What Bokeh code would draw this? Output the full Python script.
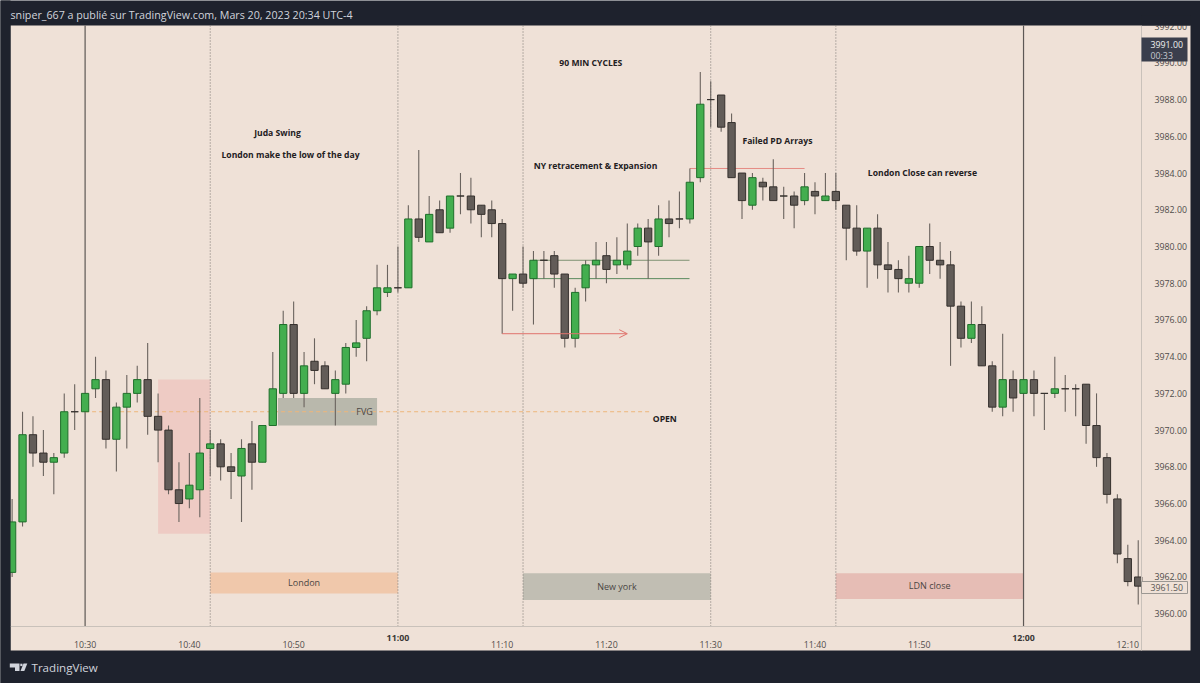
from bokeh.plotting import figure
from bokeh.models import ColumnDataSource, FixedTicker, NumeralTickFormatter, Arrow, OpenHead
from bokeh.core.properties import value
from bokeh.embed import file_html
from bokeh.resources import INLINE

# minute of day of the first candle (10:23)
first_minute = 623
opens = [3962.25,3965,3969.75,3968.75,3968.25,3968.75,3971,3971,3972.25,3972.75,3969.5,3971.25,3972,3972.75,3970.75,3970,3966.75,3966.25,3966.75,3969,3969.25,3968,3967.5,3969.25,3968.25,3970.25,3972,
 3975.75,3972,3973.75,3973.5,3972,3972.5,3974.5,3975,3976.5,3977.5,3977.75,3977.75,3981.5,3980.25,3982,3981,3982.75,3982.75,3982.25,3982,3981.25,3978.25,3978.5,3978.25,3979.25,3979.5,3978.5,3975,3977.75,3979,
 3979.5,3979,3979,3980,3981,3980,3981.5,3981.5,3981.5,3983.75,3988,3988.25,3986.75,3984,3982.25,3983.5,3983.25,3982.75,3982.75,3982.5,3983,3982.5,3983,3982.25,3981,3979.75,3981,3979,3978.75,3978,3978,3980,3979.25,3979,3976.75,3975,3975.75,3973.5,3971.25,3972.75,3972,3972.75,3972,3972,3972.25,3972.25,3972.5,3970.25,3968.5,3966.25,3963,3962]
highs = [3966.25,3971,3970.75,3970,3968.75,3972,3972.5,3972,3974,3973.25,3971.5,3973,3973.5,3974.75,3972,3970.25,3968.25,3968.75,3971.75,3970,3969.5,3968.75,3969.5,3970.5,3970.25,3974.25,3976.5,
 3977,3974.25,3975,3973.75,3973.25,3974.75,3976,3976.75,3979,3979,3980,3982.25,3985.25,3982.75,3982.5,3982.75,3984,3983.75,3982.25,3982.5,3981.5,3978.5,3980,3979.75,3979.75,3979.75,3978.5,3977.75,3979.25,3980.25,
 3980.25,3980.5,3981.25,3981.25,3981.5,3982.25,3982.5,3983,3984.25,3989.5,3989,3988.25,3987.25,3984,3984,3983.75,3984.75,3983.25,3983,3984,3983.5,3984,3984,3982.25,3982.25,3981,3981.75,3980.25,3979.25,3979.5,3980,3981.25,3980.25,3979.75,3977,3977,3976.75,3973.75,3975.25,3973.25,3972.75,3973.25,3972,3974,3973,3972.5,3972.5,3972,3968.75,3966.5,3963.75,3964]
lows = [3962,3964.75,3968,3967.5,3966.5,3968.5,3970,3971,3971.75,3969,3967.75,3969,3971.5,3969.75,3968.25,3966.5,3965,3965.75,3965.25,3967.5,3967.25,3966.25,3965,3966.75,3968.25,3970.25,3971.75,
 3971.75,3971.25,3972.5,3972.25,3970.25,3972,3974,3973.75,3976.25,3977.25,3977.5,3977.75,3980.25,3980.25,3980.75,3980.75,3981.75,3981.25,3980.5,3980.5,3975.25,3976.5,3977.75,3975.75,3978.25,3977.75,3974.5,3974.5,3977,3978.25,
 3978,3978.5,3978.75,3979.5,3978.25,3979.5,3980.5,3981,3981.25,3983.5,3986.5,3986.25,3983.75,3981.5,3982,3982.5,3982.5,3981.5,3981,3982.25,3981.75,3982.5,3982,3979.25,3979.5,3977.75,3978.25,3977.5,3977.5,3977.5,3977.75,3978.5,3978.25,3973.5,3974.5,3974.75,3973.5,3971,3970.75,3971,3972,3970.75,3970,3971.75,3971,3970.75,3969.25,3968,3966,3962.75,3961.5,3960.5]
closes = [3965,3969.75,3968.75,3968.25,3968.5,3971,3971,3972,3972.75,3969.5,3971.25,3972,3972.75,3970.75,3970,3966.75,3966,3967,3968.75,3969.25,3968,3967.75,3969,3968.25,3970.25,3972.25,3975.75,
 3972,3973.5,3973.25,3972.25,3972.75,3974.5,3974.75,3976.5,3977.75,3977.75,3977.75,3981.5,3980.5,3981.75,3980.75,3982.75,3982.75,3982,3981.75,3981.25,3978.25,3978.5,3978,3979.25,3979.25,3978.5,3975,3977.5,3979,3979.25,
 3978.75,3979.25,3979.75,3981,3980.25,3981.5,3981.25,3981.5,3983.5,3987.75,3988,3986.5,3983.75,3982.5,3983.75,3983.25,3982.5,3982.75,3982.25,3983.25,3982.75,3982.75,3982.5,3981,3979.75,3981,3979,3978.75,3978.25,3978.25,3980,3979.25,3979,3976.75,3975,3975.75,3973.5,3971.25,3972.75,3971.75,3972.75,3972,3972,3972.25,3972.25,3972.25,3970.25,3968.5,3966.5,3963.25,3961.75,3961.5]
minutes = [first_minute + i for i in range(len(opens))]

price_ticks = list(range(3960, 3994, 2))
time_ticks = [630, 640, 650, 660, 670, 680, 690, 700, 710, 720, 730]
time_labels = ["10:30", "10:40", "10:50", "", "11:10", "11:20", "11:30", "11:40", "11:50", "", "12:10"]
bold_ticks = [660, 720]
bold_labels = ["11:00", "12:00"]

solid_times = [630, 720]
dotted_times = [642, 660, 672, 690, 702]

zone_left = [637, 648.5, 642, 672, 702]
zone_right = [642, 658, 660, 690, 720]
zone_top = [3972.75, 3971.75, 3962.25, 3962.2, 3962.2]
zone_bottom = [3964.35, 3970.25, 3961.1, 3960.75, 3960.8]
zone_color = ["#eecbc4", "#b9b8ac", "#f0c8ab", "#c1beb3", "#e6bdb5"]

note_x = [678.5, 648.45, 649.7, 678.95, 696.4, 710.3, 685.6]
note_y = [3990.02, 3986.2, 3984.96, 3984.36, 3985.77, 3984.03, 3970.63]
note_text = ["90 MIN CYCLES", "Juda Swing", "London make the low of the day", "NY retracement & Expansion",
             "Failed PD Arrays", "London Close can reverse", "OPEN"]
tag_x = [656.8, 651, 681, 711]
tag_y = [3971, 3961.7, 3961.48, 3961.53]
tag_text = ["FVG", "London", "New york", "LDN close"]

open_price = 3971
level_top, level_bottom = 3979.25, 3978.25
high_line = 3984.25
arrow_price = 3975.25

BG, DARK = "#efe1d7", "#1e222d"

# page-pixel to data conversion, used only to place chrome (panels, tags, header)
X0, XP = 84.6, 10.427
Y0, YP = 613.2, 18.36
fx = lambda px: 630 + (px - X0) / XP
fy = lambda py: 3960 + (Y0 - py) / YP
FL, FR, FT, FB = 10, 1141, 25, 626

p = figure(width=1200, height=683, output_backend="svg", toolbar_location=None, tools="",
           x_range=(fx(0), fx(1200)), y_range=(fy(683), fy(0)),
           min_border=0, background_fill_color=DARK, border_fill_color=DARK, outline_line_color=None,
           x_axis_location="below", y_axis_location="right")
p.grid.visible = False

def box(l, r, t, b, color, level="underlay", line=None):
    p.quad(left=fx(l), right=fx(r), top=fy(t), bottom=fy(b), fill_color=color, line_color=line, level=level)

def label(x, y, text, color, size="8.8px", align="left", style="normal", level="annotation"):
    p.text([x], [y], text=[text], text_font=value("Open Sans"), text_font_size=size, text_font_style=style,
           text_color=color, text_align=align, text_baseline="middle", level=level)

box(FL, 1190, FT, 650, BG)

p.quad(left=zone_left, right=zone_right, top=zone_top, bottom=zone_bottom, fill_color=zone_color, line_color=None, level="underlay")

p.segment(solid_times, [fy(FT)] * len(solid_times), solid_times, [fy(FB)] * len(solid_times),
          line_color="#5d5855", line_width=1.2, level="underlay")
p.segment(dotted_times, [fy(FT)] * len(dotted_times), dotted_times, [fy(FB)] * len(dotted_times),
          line_color="#7b7673", line_width=1, line_dash="1 2", level="underlay")

p.line([630, fx(650)], [open_price, open_price], line_color="#eeb67a", line_width=1, line_dash="4 3")
p.line([fx(532), fx(689)], [level_top, level_top], line_color="#7f9273", line_width=1)
p.line([fx(532), fx(689)], [level_bottom, level_bottom], line_color="#5b8a5e", line_width=1)
p.line([688, 699], [high_line, high_line], line_color="#e58a84", line_width=1)

src_up = ColumnDataSource(dict(x=[m for m, o, c in zip(minutes, opens, closes) if c > o],
                               o=[o for o, c in zip(opens, closes) if c > o],
                               c=[c for o, c in zip(opens, closes) if c > o]))
src_dn = ColumnDataSource(dict(x=[m for m, o, c in zip(minutes, opens, closes) if c <= o],
                               o=[o for o, c in zip(opens, closes) if c <= o],
                               c=[c for o, c in zip(opens, closes) if c <= o]))
p.segment(minutes, highs, minutes, lows, line_color="#6a635e", line_width=1.1)
p.vbar(x="x", top="c", bottom="o", width=0.7, source=src_up, fill_color="#43ae4f", line_color="#1f6f2b", line_width=1)
p.vbar(x="x", top="o", bottom="c", width=0.7, source=src_dn, fill_color="#625c58", line_color="#35302d", line_width=1)

p.add_layout(Arrow(x_start=670, y_start=arrow_price, x_end=682, y_end=arrow_price,
                   line_color="#e0736c", line_width=1,
                   end=OpenHead(size=8, line_color="#e0736c", line_width=1)))

p.text(note_x, note_y, text=note_text, text_font=value("Open Sans"), text_font_size="8.6px", text_font_style="bold",
       text_color="#23201e", text_align="center", text_baseline="middle")
p.text(tag_x, tag_y, text=tag_text, text_font=value("Open Sans"), text_font_size="9px",
       text_color="#4a4643", text_align="center", text_baseline="middle")

xa, ya = p.xaxis[0], p.yaxis[0]
xa.fixed_location = fy(FB)
ya.fixed_location = fx(FR)
xa.bounds = (fx(FL), fx(FR))
ya.bounds = (fy(650), fy(FT))
xa.ticker = FixedTicker(ticks=time_ticks)
xa.major_label_overrides = {t: s for t, s in zip(time_ticks, time_labels)}
ya.ticker = FixedTicker(ticks=price_ticks)
ya.formatter = NumeralTickFormatter(format="0.00")
for a in (xa, ya):
    a.axis_line_color = "#c9c1ba"
    a.major_tick_line_color = None
    a.minor_tick_line_color = None
    a.major_label_text_color = "#4f4c4a"
    a.major_label_text_font = "Open Sans"
    a.major_label_text_font_size = "8.8px"
xa.major_label_standoff = 6
ya.major_label_standoff = 7

for t, s in zip(bold_ticks, bold_labels):
    label(t, fy(637.5), s, "#3a3735", align="center", style="bold")

# masks and last-price tags, above the axis labels
box(0, FL, 0, 683, DARK, level="annotation")
box(FR, 1190, 15, FT, DARK, level="annotation")
box(FR, 1187, 37, 61, "#3a3e4c", level="annotation")
box(FR, 1187, 581, 593, BG, level="annotation", line="#9b9792")
label(fx(1150), fy(44), "3991.00", "#f0f0f0")
label(fx(1150), fy(55), "00:33", "#c8cad0")
label(fx(1150), fy(587), "3961.50", "#5a5754")

# header and brand
label(fx(10), fy(14), "sniper_667 a publié sur TradingView.com, Mars 20, 2023 20:34 UTC-4", "#d1d4dc", size="10.7px")
label(fx(31), fy(667), "TradingView", "#d1d4dc", size="11.6px")
logo_t = [(9.3, 663), (19, 663), (19, 670.5), (14.5, 670.5), (14.5, 667), (9.3, 667)]
logo_s = [(23, 663), (26.8, 663), (23.8, 670.5), (20, 670.5)]
logo_d = [(19.8, 663.2), (22, 663.2), (22, 665.6), (19.8, 665.6)]
for poly in (logo_t, logo_s, logo_d):
    p.patch([fx(a) for a, b in poly], [fy(b) for a, b in poly], fill_color="#d1d4dc", line_color=None, level="annotation")

open("out.html", "w").write(file_html(p, INLINE))
